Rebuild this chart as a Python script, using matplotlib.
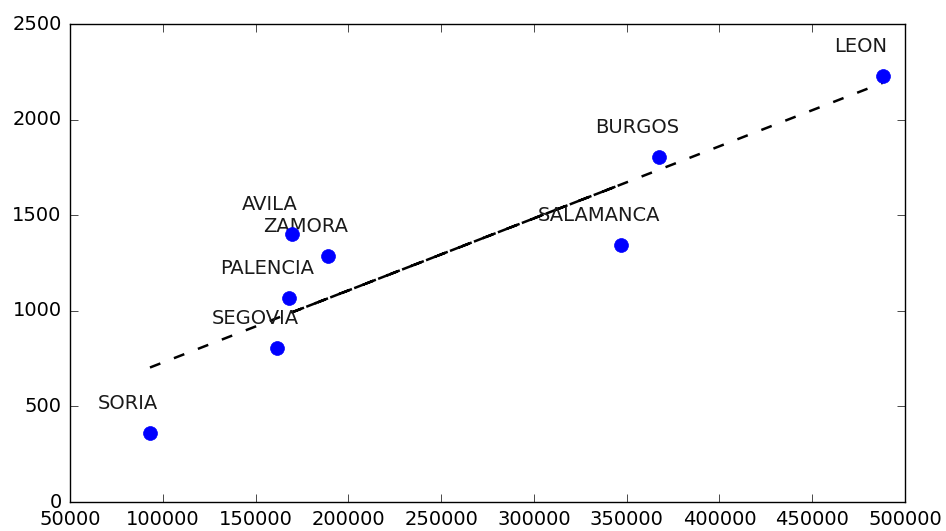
import numpy as np
import matplotlib
matplotlib.use("Agg")
import matplotlib.pyplot as plt

plt.style.use("classic")
plt.rcParams["font.family"] = "DejaVu Sans"
plt.rcParams["font.size"] = 14

# provinces in the order they were plotted (sorted by the y value)
provincias = ["SORIA", "SEGOVIA", "PALENCIA", "ZAMORA", "SALAMANCA", "AVILA", "BURGOS", "LEON"]
poblacion = [93100, 161500, 168000, 189000, 346900, 169600, 367300, 488000]
valor = [361, 805, 1067, 1287, 1344, 1402, 1804, 2228]

x = np.array(poblacion)
y = np.array(valor)

fig = plt.figure(figsize=(9.46, 5.31), dpi=100, facecolor="white")
ax = fig.add_axes([0.074, 0.0546, 0.8827, 0.9002])
ax.set_facecolor("white")

# linear trend, drawn in data order like the original (overlapping dashes look solid)
m, b = np.polyfit(x, y, 1)
ax.plot(x, m * x + b, color="k", lw=1.8, linestyle=(0, (8.0, 10.5)))

ax.plot(x, y, "o", color="b", mec="b", markersize=10, zorder=5)

for name, xi, yi in zip(provincias, x, y):
    ax.annotate(name, xy=(xi, yi), xytext=(-22, 24), textcoords="offset pixels",
                ha="center", va="baseline", fontsize=14, color="#1a1a1a")

ax.set_xlim(50000, 500000)
ax.set_ylim(0, 2500)
ax.set_xticks(np.arange(50000, 500001, 50000))
ax.set_yticks(np.arange(0, 2501, 500))
ax.tick_params(direction="in", length=6, labelsize=14, pad=6, top=True, right=True)

fig.savefig("out.png", dpi=100, facecolor="white")
